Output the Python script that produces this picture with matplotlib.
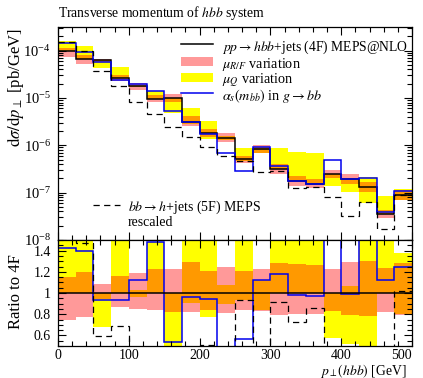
import numpy as np
import matplotlib
matplotlib.use("Agg")
import matplotlib.pyplot as plt
from matplotlib.ticker import LogLocator, MultipleLocator, FixedLocator, FixedFormatter, NullFormatter
from matplotlib.lines import Line2D
from matplotlib.patches import Rectangle

plt.rcParams['font.family'] = ['Liberation Serif', 'DejaVu Serif']
plt.rcParams['mathtext.fontset'] = 'stix'

# ---------------- data ----------------
bin_edges = [0, 25, 50, 75, 100, 125, 150, 175, 200, 225, 250,
             275, 300, 325, 350, 375, 400, 425, 450, 475, 500]

central_4f = [1.00e-4, 6.8e-5, 6.2e-5, 2.6e-5, 1.75e-5, 9.6e-6, 1.0e-5, 3.17e-6,
              1.8e-6, 1.45e-6, 5.03e-7, 8.2e-7, 3.1e-7, 1.76e-7, 1.55e-7, 2.44e-7,
              1.95e-7, 1.32e-7, 3.52e-8, 8.8e-8]

alphas_mbb = [1.42e-4, 9.5e-5, 5.8e-5, 2.42e-5, 1.96e-5, 1.42e-5, 5.4e-6, 3.05e-6,
              1.7e-6, 7.0e-7, 2.85e-7, 9.2e-7, 3.65e-7, 1.72e-7, 1.5e-7, 4.8e-7,
              1.93e-7, 2.05e-7, 3.94e-8, 1.1e-7]

meps_5f = [1.55e-4, 1.0e-4, 3.7e-5, 1.78e-5, 8.3e-6, 4.6e-6, 2.4e-6, 1.5e-6,
           9.1e-7, 5.9e-7, 4.7e-7, 2.72e-7, 2.83e-7, 1.28e-7, 1.33e-7, 8.1e-8,
           3.2e-8, 6.4e-8, 1.7e-8, 9.0e-8]

# relative variations (band / central)
muRF_lo = [0.75, 0.77, 0.94, 0.87, 0.845, 0.84, 0.82, 0.82, 0.84, 0.81,
           0.84, 0.83, 0.79, 0.80, 0.80, 0.83, 0.79, 0.78, 0.82, 0.79]
muRF_hi = [1.15, 1.20, 1.084, 1.16, 1.19, 1.225, 1.23, 1.29, 1.21, 1.25,
           1.21, 1.23, 1.28, 1.27, 1.26, 1.23, 1.29, 1.30, 1.24, 1.28]
muQ_lo = [1.0, 1.0, 0.68, 1.0, 0.965, 1.0, 0.48, 0.91, 0.77, 0.90,
          0.93, 0.84, 1.0, 1.0, 1.0, 0.58, 0.52, 0.46, 1.0, 0.80]
muQ_hi = [1.62, 1.87, 1.0, 1.70, 1.03, 1.48, 1.0, 1.95, 1.80, 1.08,
          1.74, 1.12, 2.86, 4.1, 4.5, 1.0, 1.07, 1.62, 2.36, 1.38]

x_ticks = [0, 100, 200, 300, 400, 500]
ratio_ticks = [0.6, 0.8, 1.0, 1.2, 1.4]
ratio_tick_labels = ['0.6', '0.8', '1', '1.2', '1.4']

legend_labels = [r'$pp \rightarrow hbb$+jets (4F) MEPS@NLO',
                 r'$\mu_{R/F}$ variation',
                 r'$\mu_{Q}$ variation',
                 r'$\alpha_s(m_{bb})$ in $g \rightarrow bb$']
legend_5f = [r'$bb \rightarrow h$+jets (5F) MEPS', 'rescaled']

edges = np.array(bin_edges, dtype=float)
c = np.array(central_4f)
blue = np.array(alphas_mbb)
dash = np.array(meps_5f)
pl, ph = np.array(muRF_lo), np.array(muRF_hi)
yl, yh = np.array(muQ_lo), np.array(muQ_hi)

YELLOW = '#ffff00'
PINK = (1.0, 0.0, 0.0, 0.4)
BLUE = '#0000ee'
DASH = (0, (5, 3.5))

W, H = 423, 378
fig = plt.figure(figsize=(W / 100, H / 100), dpi=100)
L, R = 58, 412
ax = fig.add_axes([L / W, (H - 240) / H, (R - L) / W, 213 / H])
rx = fig.add_axes([L / W, (H - 346) / H, (R - L) / W, 106 / H], sharex=ax)

# ---------------- main panel ----------------
ax.stairs(c * yh, edges, baseline=c * yl, fill=True, color=YELLOW, lw=0)
ax.stairs(c * ph, edges, baseline=c * pl, fill=True, color=PINK, lw=0)
ax.stairs(c, edges, baseline=None, color='black', lw=1.1)
ax.stairs(blue, edges, baseline=None, color=BLUE, lw=1.1)
ax.stairs(dash, edges, baseline=None, color='black', lw=0.9, ls=DASH)

ax.set_yscale('log')
ax.set_xlim(0, 500)
ax.set_ylim(1e-8, 3.15e-4)
ax.yaxis.set_major_locator(LogLocator(base=10, numticks=10))
ax.yaxis.set_minor_locator(LogLocator(base=10, subs=np.arange(2, 10), numticks=20))
ax.yaxis.set_minor_formatter(NullFormatter())

# ---------------- ratio panel ----------------
rx.stairs(yh, edges, baseline=yl, fill=True, color=YELLOW, lw=0)
rx.stairs(ph, edges, baseline=pl, fill=True, color=PINK, lw=0)
rx.axhline(1.0, color='black', lw=1.1)
rx.stairs(blue / c, edges, baseline=None, color=BLUE, lw=1.1)
rx.stairs(dash / c, edges, baseline=None, color='black', lw=0.9, ls=DASH)
rx.set_ylim(0.5, 1.5)
rx.yaxis.set_major_locator(FixedLocator(ratio_ticks))
rx.yaxis.set_major_formatter(FixedFormatter(ratio_tick_labels))
rx.yaxis.set_minor_locator(MultipleLocator(0.05))
rx.xaxis.set_major_locator(FixedLocator(x_ticks))
rx.xaxis.set_major_formatter(FixedFormatter([str(t) for t in x_ticks]))
rx.xaxis.set_minor_locator(MultipleLocator(20))

for a in (ax, rx):
    a.tick_params(which='both', direction='in', top=True, right=True, width=0.8,
                  labelsize=10.5, colors='black')
    a.tick_params(which='major', length=6, pad=5)
    a.tick_params(which='minor', length=3.5)
    for s in a.spines.values():
        s.set_linewidth(0.9)
ax.tick_params(axis='x', labelbottom=False)
rx.tick_params(axis='x', pad=2, labelsize=10)
rx.tick_params(axis='y', labelsize=10)

fig.canvas.draw()
xl = rx.get_xticklabels()
xl[-1].set_horizontalalignment('right')
xl[-1].set_x(x_ticks[-1])

# ---------------- labels ----------------
fig.text(L / W, 1 - 13 / H, r'Transverse momentum of $hbb$ system', fontsize=9.8,
         ha='left', va='center')
fig.text(15 / W, 1 - 28 / H, r'$\mathrm{d}\sigma/\mathrm{d}p_\perp$ [pb/GeV]', fontsize=12,
         rotation=90, ha='center', va='top')
fig.text(16 / W, 1 - 292 / H, 'Ratio to 4F', fontsize=12, rotation=90,
         ha='center', va='center')
fig.text(407 / W, 1 - 370.5 / H, r'$p_\perp(hbb)$ [GeV]', fontsize=9.8,
         ha='right', va='center')

# ---------------- legends (placed in pixel coordinates) ----------------
def px(x, y):
    return x / W, 1 - y / H

row_y = [44.3, 61.7, 77.3, 93.3]
hx0, hx1, tx = 181, 213, 222
fig.add_artist(Line2D([hx0 / W, hx1 / W], [px(0, row_y[0])[1]] * 2, color='black', lw=1.1))
fig.add_artist(Rectangle(px(hx0, row_y[1] + 4.5), (hx1 - hx0) / W, 9 / H,
                         facecolor=PINK, edgecolor='none', transform=fig.transFigure))
fig.add_artist(Rectangle(px(hx0, row_y[2] + 4.5), (hx1 - hx0) / W, 9 / H,
                         facecolor=YELLOW, edgecolor='none', transform=fig.transFigure))
fig.add_artist(Line2D([hx0 / W, hx1 / W], [px(0, row_y[3])[1]] * 2, color=BLUE, lw=1.1))
for lab, ry in zip(legend_labels, row_y):
    fig.text(*px(tx, ry), lab, fontsize=9.8 if ry == row_y[0] else 10.2,
             ha='left', va='center_baseline')

fig.add_artist(Line2D([93 / W, 120 / W], [px(0, 205)[1]] * 2, color='black', lw=0.9, ls=DASH))
fig.text(*px(128, 205), legend_5f[0], fontsize=10, ha='left', va='center_baseline')
fig.text(*px(128, 220.5), legend_5f[1], fontsize=10, ha='left', va='center_baseline')

fig.savefig('out.png', dpi=100)
